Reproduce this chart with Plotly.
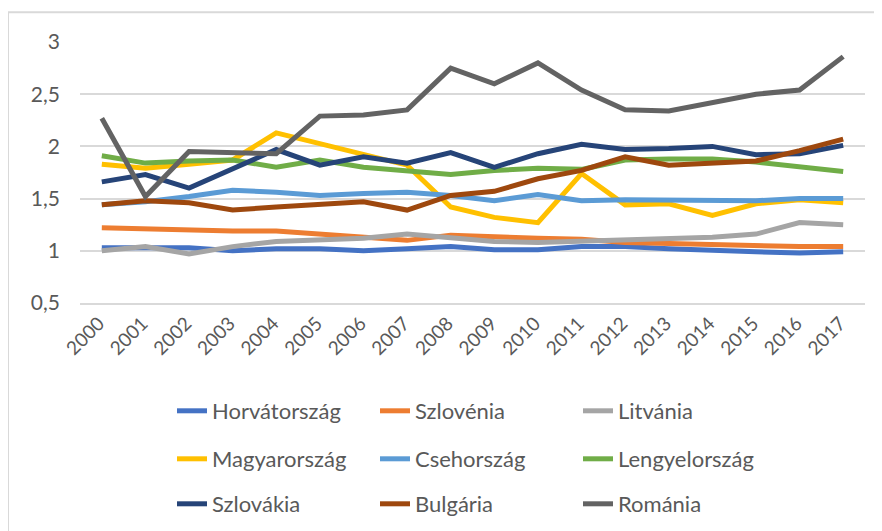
import plotly.graph_objects as go

years = [str(y) for y in range(2000, 2018)]

horvatorszag = [1.03, 1.03, 1.03, 1.00, 1.02, 1.02, 1.00, 1.02, 1.04, 1.01, 1.01, 1.04, 1.04, 1.02, 1.00, 0.99, 0.98, 0.99]
szlovenia = [1.22, 1.21, 1.19, 1.19, 1.19, 1.16, 1.12, 1.10, 1.15, 1.13, 1.12, 1.11, 1.08, 1.07, 1.06, 1.04, 1.04, 1.04]
litvania = [1.00, 1.04, 0.97, 1.04, 1.09, 1.10, 1.12, 1.16, 1.12, 1.09, 1.08, 1.09, 1.10, 1.11, 1.13, 1.16, 1.27, 1.25]
magyarorszag = [1.83, 1.79, 1.83, 1.87, 2.13, 2.03, 1.92, 1.82, 1.42, 1.32, 1.27, 1.74, 1.44, 1.45, 1.34, 1.45, 1.49, 1.46]
csehorszag = [1.44, 1.47, 1.52, 1.58, 1.56, 1.53, 1.55, 1.56, 1.53, 1.48, 1.54, 1.48, 1.49, 1.49, 1.49, 1.48, 1.50, 1.50]
lengyelorszag = [1.91, 1.84, 1.86, 1.87, 1.80, 1.87, 1.80, 1.76, 1.73, 1.77, 1.79, 1.78, 1.87, 1.88, 1.88, 1.85, 1.80, 1.76]
szlovakia = [1.66, 1.73, 1.60, 1.79, 1.97, 1.82, 1.90, 1.84, 1.94, 1.80, 1.93, 2.02, 1.97, 1.98, 2.00, 1.92, 1.93, 2.01]
bulgaria = [1.44, 1.48, 1.46, 1.39, 1.42, 1.45, 1.47, 1.39, 1.53, 1.57, 1.69, 1.77, 1.90, 1.82, 1.84, 1.86, 1.96, 2.07]
romania = [2.27, 1.52, 1.95, 1.94, 1.93, 2.29, 2.30, 2.35, 2.75, 2.60, 2.80, 2.54, 2.35, 2.34, 2.42, 2.50, 2.54, 2.86]

series_names = ["Horvátország", "Szlovénia", "Litvánia",
                "Magyarország", "Csehország", "Lengyelország",
                "Szlovákia", "Bulgária", "Románia"]
series_values = [horvatorszag, szlovenia, litvania,
                 magyarorszag, csehorszag, lengyelorszag,
                 szlovakia, bulgaria, romania]
series_colors = ["#4472C4", "#ED7D31", "#A5A5A5",
                 "#FFC000", "#5B9BD5", "#70AD47",
                 "#264478", "#9E480E", "#636363"]
legend_ids = ["legend", "legend", "legend",
              "legend2", "legend2", "legend2",
              "legend3", "legend3", "legend3"]

y_tick_vals = [0.5, 1, 1.5, 2, 2.5, 3]
y_tick_text = ["0,5", "1", "1,5", "2", "2,5", "3"]

FONT = "Lato"
TXT = "#595959"
GRID = "#D9D9D9"

W, H = 882, 531
PAGE_OFF = 8  # default body margin of the html page

fig = go.Figure()
for name, vals, col, lg in zip(series_names, series_values, series_colors, legend_ids):
    fig.add_trace(go.Scatter(
        x=years, y=vals, name=name, mode="lines",
        line=dict(color=col, width=5),
        legend=lg,
    ))

legend_common = dict(
    orientation="h", xanchor="left", yanchor="middle",
    xref="container", yref="container",
    entrywidth=158, entrywidthmode="pixels",
    font=dict(family=FONT, size=22, color=TXT),
    bgcolor="rgba(0,0,0,0)", itemwidth=30, borderwidth=0,
)

leg_x = (213 - 41 - PAGE_OFF) / W
fig.update_layout(
    width=W, height=H,
    margin=dict(l=80 - PAGE_OFF, r=W - 865 + PAGE_OFF,
                t=42 - PAGE_OFF, b=H - 303 + PAGE_OFF, autoexpand=False),
    paper_bgcolor="white", plot_bgcolor="white",
    font=dict(family=FONT, size=21, color=TXT),
    showlegend=True,
    legend=dict(x=leg_x, y=1 - (411 - PAGE_OFF) / H, **legend_common),
    legend2=dict(x=leg_x, y=1 - (459 - PAGE_OFF) / H, **legend_common),
    legend3=dict(x=leg_x, y=1 - (504 - PAGE_OFF) / H, **legend_common),
    xaxis=dict(
        type="category", range=[-0.5, 17.5],
        showgrid=False, zeroline=False, automargin=False,
        showline=True, linecolor=GRID, linewidth=2,
        tickangle=-45, ticks="", ticklabelshift=-3,
        tickfont=dict(family=FONT, size=19, color=TXT),
    ),
    yaxis=dict(
        range=[0.5, 3], tickvals=y_tick_vals, ticktext=y_tick_text,
        showgrid=True, gridcolor=GRID, gridwidth=2, automargin=False,
        zeroline=False, showline=False, ticks="",
        ticklabelstandoff=19,
        tickfont=dict(family=FONT, size=21, color=TXT),
    ),
    shapes=[dict(
        type="rect", xref="paper", yref="paper",
        x0=-0.0917, x1=1.04, y0=-0.95, y1=1.1138,
        line=dict(color=GRID, width=2), fillcolor="rgba(0,0,0,0)",
        layer="below",
    )],
)

fig.write_html("out.html")
